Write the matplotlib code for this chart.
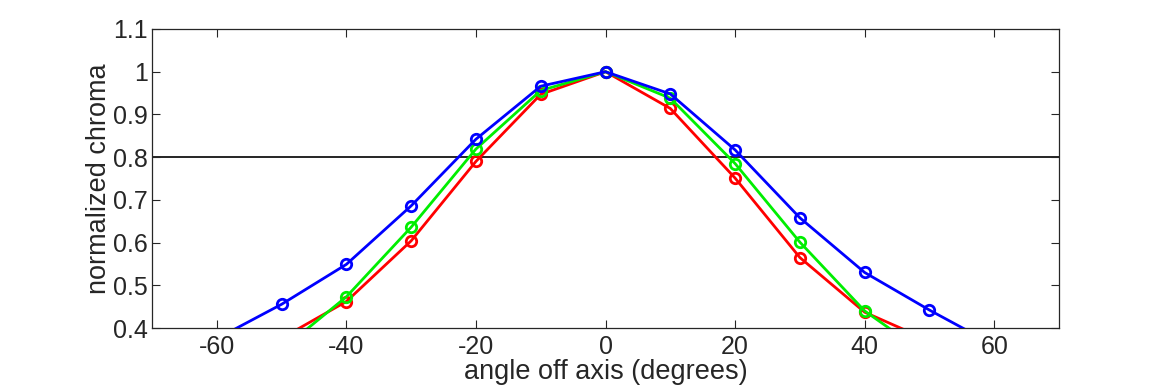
import matplotlib
matplotlib.use("Agg")
import matplotlib.pyplot as plt

plt.rcParams["font.family"] = ["Liberation Sans", "DejaVu Sans"]
plt.rcParams["axes.unicode_minus"] = False

angles = [-60, -50, -40, -30, -20, -10, 0, 10, 20, 30, 40, 50, 60]
red = [0.30, 0.376, 0.462, 0.604, 0.790, 0.947, 1.0, 0.914, 0.751, 0.565, 0.437, 0.37, 0.30]
green = [0.27, 0.349, 0.473, 0.636, 0.819, 0.956, 1.0, 0.938, 0.785, 0.601, 0.44, 0.333, 0.26]
blue = [0.375, 0.4555, 0.549, 0.686, 0.842, 0.966, 1.0, 0.948, 0.817, 0.658, 0.530, 0.442, 0.36]

xticks = [-60, -40, -20, 0, 20, 40, 60]
yticks = [0.4, 0.5, 0.6, 0.7, 0.8, 0.9, 1.0, 1.1]
ytick_labels = ["0.4", "0.5", "0.6", "0.7", "0.8", "0.9", "1", "1.1"]

fig = plt.figure(figsize=(11.7, 3.9), dpi=100)
ax = fig.add_axes([152 / 1170, 1 - 328 / 390, (1059 - 152) / 1170, (328 - 29) / 390])

ax.axhline(0.8, color="black", lw=1.2, zorder=1)
for vals, col in [(red, "#ff0000"), (green, "#00ee00"), (blue, "#0000ff")]:
    ax.plot(angles, vals, color=col, lw=2.0, marker="o", ms=7.5,
            mfc="none", mec=col, mew=2.0, zorder=3)

ax.set_xlim(-70, 70)
ax.set_ylim(0.4, 1.1)
ax.set_xticks(xticks)
ax.set_yticks(yticks)
ax.set_yticklabels(ytick_labels)
ax.tick_params(direction="in", top=True, right=True, length=6,
               width=0.8, labelsize=18, colors="#262626")
ax.tick_params(axis="y", pad=3)
ax.tick_params(axis="x", pad=5)
for s in ax.spines.values():
    s.set_color("#262626")
    s.set_linewidth(0.9)
ax.set_xlabel("angle off axis (degrees)", fontsize=19.5, color="#262626", labelpad=0)
ax.set_ylabel("normalized chroma", fontsize=19.5, color="#262626", labelpad=1)

fig.savefig("out.png", dpi=100)
